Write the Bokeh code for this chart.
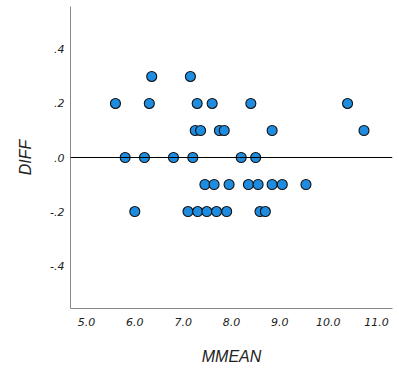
from bokeh.plotting import figure
from bokeh.models import ColumnDataSource, FixedTicker, Range1d, Span
from bokeh.embed import file_html
from bokeh.resources import INLINE

# Data
mmean = [6.35, 7.15,
         5.60, 6.30, 7.29, 7.60, 8.40, 10.40,
         7.25, 7.36, 7.75, 7.85, 8.84, 10.74,
         5.80, 6.20, 6.80, 7.20, 8.20, 8.50,
         7.45, 7.64, 7.95, 8.35, 8.55, 8.84, 9.05, 9.54,
         6.00, 7.10, 7.30, 7.49, 7.69, 7.90, 8.59, 8.70]
diff = [0.3, 0.3,
        0.2, 0.2, 0.2, 0.2, 0.2, 0.2,
        0.1, 0.1, 0.1, 0.1, 0.1, 0.1,
        0.0, 0.0, 0.0, 0.0, 0.0, 0.0,
        -0.1, -0.1, -0.1, -0.1, -0.1, -0.1, -0.1, -0.1,
        -0.2, -0.2, -0.2, -0.2, -0.2, -0.2, -0.2, -0.2]
x_ticks = [5, 6, 7, 8, 9, 10, 11]
x_tick_labels = ["5.0", "6.0", "7.0", "8.0", "9.0", "10.0", "11.0"]
y_ticks = [-0.4, -0.2, 0.0, 0.2, 0.4]
y_tick_labels = ["-.4", "-.2", ".0", ".2", ".4"]

src = ColumnDataSource(data=dict(x=mmean, y=diff))

p = figure(width=394, height=373, output_backend="svg", toolbar_location=None,
           x_range=Range1d(4.67, 11.33), y_range=Range1d(-0.559, 0.559),
           min_border_left=70, min_border_right=2, min_border_top=6, min_border_bottom=65)
p.outline_line_color = None
p.xgrid.visible = False
p.ygrid.visible = False
p.background_fill_color = "white"

p.add_layout(Span(location=0, dimension="width", line_color="black", line_width=1))

p.scatter("x", "y", source=src, size=10, fill_color="#1e8ce0",
          line_color="#111111", line_width=1.1)

for ax, ticks, labels in ((p.xaxis[0], x_ticks, x_tick_labels), (p.yaxis[0], y_ticks, y_tick_labels)):
    ax.ticker = FixedTicker(ticks=ticks)
    ax.major_label_overrides = {t: l for t, l in zip(ticks, labels)}
    ax.major_tick_line_color = None
    ax.major_tick_out = 0
    ax.major_tick_in = 0
    ax.minor_tick_line_color = None
    ax.minor_tick_out = 0
    ax.axis_line_color = "#888888"
    ax.major_label_text_font = "DejaVu Sans"
    ax.major_label_text_font_style = "italic"
    ax.major_label_text_font_size = "11px"
    ax.major_label_text_color = "#222222"
    ax.axis_label_text_font = "Liberation Sans"
    ax.axis_label_text_font_style = "italic"
    ax.axis_label_text_font_size = "16px"
    ax.axis_label_text_color = "#222222"

p.xaxis.axis_label = "MMEAN"
p.yaxis.axis_label = "DIFF"
p.xaxis.major_label_standoff = 9
p.yaxis.major_label_standoff = 6
p.xaxis.axis_label_standoff = 19
p.yaxis.axis_label_standoff = 13

open("out.html", "w").write(file_html(p, INLINE))
